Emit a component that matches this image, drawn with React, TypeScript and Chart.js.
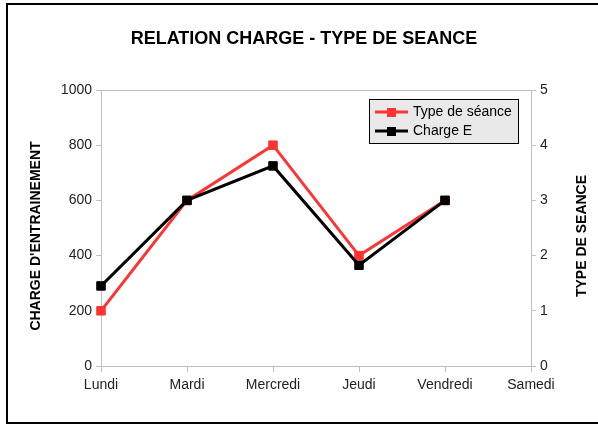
import React, { useEffect, useRef } from "react";
import { Chart, registerables } from "chart.js";

Chart.register(...registerables);

const categories = ["Lundi", "Mardi", "Mercredi", "Jeudi", "Vendredi", "Samedi"];
const typeSeance = [1, 3, 4, 2, 3, null];
const chargeE = [290, 600, 725, 365, 600, null];
const leftTicksMax = 1000;
const rightTicksMax = 5;
const chartTitle = "RELATION CHARGE - TYPE DE SEANCE";
const leftTitle = "CHARGE D'ENTRAINEMENT";
const rightTitle = "TYPE DE SEANCE";
const seriesNames = ["Type de séance", "Charge E"];
const RED = "#ff3333";
const BLACK = "#000000";
const FONT = "'Liberation Sans', Arial, sans-serif";

const decorPlugin = {
  id: "decor",
  beforeDraw(chart: any) {
    const { ctx, width, height } = chart;
    ctx.save();
    ctx.fillStyle = "#ffffff";
    ctx.fillRect(0, 0, width, height);
    ctx.restore();
  },
  afterDraw(chart: any) {
    const { ctx, chartArea } = chart;
    ctx.save();
    // frame
    ctx.strokeStyle = "#000";
    ctx.lineWidth = 2;
    ctx.strokeRect(7, 4, 600, 419);
    // top line of plot
    ctx.strokeStyle = "#c0c0c0";
    ctx.lineWidth = 1;
    ctx.beginPath();
    ctx.moveTo(chartArea.left, Math.round(chartArea.top) + 0.5);
    ctx.lineTo(chartArea.right, Math.round(chartArea.top) + 0.5);
    ctx.stroke();
    // title
    ctx.fillStyle = "#000";
    ctx.font = `bold 18px ${FONT}`;
    ctx.textAlign = "center";
    ctx.textBaseline = "middle";
    ctx.fillText(chartTitle, 304, 39);
    // axis titles
    ctx.font = `bold 14px ${FONT}`;
    const cy = (chartArea.top + chartArea.bottom) / 2 + 8;
    ctx.save();
    ctx.translate(36, cy);
    ctx.rotate(-Math.PI / 2);
    ctx.fillText(leftTitle, 0, 0);
    ctx.restore();
    ctx.save();
    ctx.translate(582, cy);
    ctx.rotate(-Math.PI / 2);
    ctx.fillText(rightTitle, 0, 0);
    ctx.restore();
    // legend
    const lx = 369.5, ly = 99.5, lw = 149, lh = 44;
    ctx.fillStyle = "#e9e9e9";
    ctx.fillRect(lx, ly, lw, lh);
    ctx.strokeStyle = "#000";
    ctx.lineWidth = 1;
    ctx.strokeRect(lx, ly, lw, lh);
    const colors = [RED, BLACK];
    const rows = [112, 131];
    ctx.font = `14px ${FONT}`;
    ctx.textAlign = "left";
    seriesNames.forEach((name, i) => {
      const y = rows[i];
      ctx.strokeStyle = colors[i];
      ctx.lineWidth = 3;
      ctx.beginPath();
      ctx.moveTo(375, y);
      ctx.lineTo(408, y);
      ctx.stroke();
      ctx.fillStyle = colors[i];
      ctx.fillRect(387, y - 4, 9, 9);
      ctx.fillStyle = "#000";
      ctx.fillText(name, 413, y);
    });
    ctx.restore();
  },
};

export default function App() {
  const ref = useRef<HTMLCanvasElement>(null);
  useEffect(() => {
    document.body.style.margin = "0";
    const tickFont = { family: FONT, size: 14 };
    const chart = new Chart(ref.current!, {
      type: "line",
      data: {
        labels: categories,
        datasets: [
          {
            label: seriesNames[0],
            data: typeSeance,
            yAxisID: "y2",
            borderColor: RED,
            backgroundColor: RED,
            borderWidth: 3,
            pointStyle: "rect",
            pointRadius: 6,
            pointBorderWidth: 1,
            order: 1,
            tension: 0,
          },
          {
            label: seriesNames[1],
            data: chargeE,
            yAxisID: "y",
            borderColor: BLACK,
            backgroundColor: BLACK,
            borderWidth: 3,
            pointStyle: "rect",
            pointRadius: 6,
            pointBorderWidth: 1,
            order: 0,
            tension: 0,
          },
        ],
      },
      options: {
        animation: false,
        responsive: false,
        layout: { padding: { left: 0, right: 0, top: 90, bottom: 0 } },
        plugins: {
          legend: { display: false },
          title: { display: false },
          tooltip: { enabled: false },
        },
        scales: {
          x: {
            offset: false,
            grid: { drawOnChartArea: false, drawTicks: true, tickLength: 6, color: "#c0c0c0" },
            border: { display: true, color: "#c0c0c0" },
            ticks: { color: "#222", font: tickFont, padding: 5, maxRotation: 0, autoSkip: false },
            afterFit(scale: any) {
              scale.height = 59;
            },
          },
          y: {
            position: "left",
            min: 0,
            max: leftTicksMax,
            ticks: {
              stepSize: 200,
              color: "#222",
              font: tickFont,
              padding: 4,
              callback: (v: any) => String(v),
            },
            grid: { drawOnChartArea: false, drawTicks: true, tickLength: 5, color: "#c0c0c0" },
            border: { display: true, color: "#c0c0c0" },
            afterFit(scale: any) {
              scale.width = 101;
            },
          },
          y2: {
            position: "right",
            min: 0,
            max: rightTicksMax,
            ticks: { stepSize: 1, color: "#222", font: tickFont, padding: 4, callback: (v: any) => String(v) },
            grid: { drawOnChartArea: false, drawTicks: true, tickLength: 5, color: "#c0c0c0" },
            border: { display: true, color: "#c0c0c0" },
            afterFit(scale: any) {
              scale.width = 67;
            },
          },
        },
      },
      plugins: [decorPlugin],
    });
    return () => chart.destroy();
  }, []);
  return (
    <div style={{ width: 598, height: 425 }}>
      <canvas ref={ref} width={598} height={425} style={{ display: "block" }} />
    </div>
  );
}
